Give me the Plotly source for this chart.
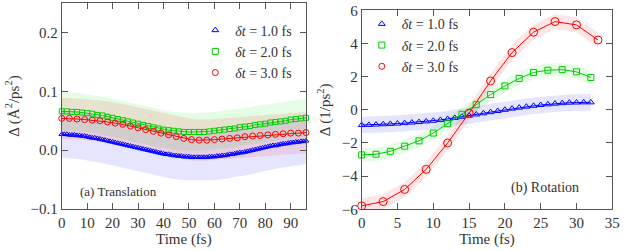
import plotly.graph_objects as go

# ---------------- data ----------------
labels = ["<i>δt</i> = 1.0 fs", "<i>δt</i> = 2.0 fs", "<i>δt</i> = 3.0 fs"]

# (a) Translation
tA1 = list(range(0, 97, 1))
yA1 = [0.027, 0.027, 0.027, 0.026, 0.026, 0.026, 0.025, 0.025, 0.024, 0.024, 0.023,
       0.022, 0.021, 0.021, 0.020, 0.019, 0.018, 0.017, 0.016, 0.015, 0.014,
       0.013, 0.012, 0.011, 0.010, 0.009, 0.008, 0.007, 0.006, 0.005, 0.004,
       0.003, 0.002, 0.001, 0.000, -0.001, -0.002, -0.003, -0.004, -0.005, -0.006,
       -0.007, -0.007, -0.008, -0.009, -0.009, -0.010, -0.010, -0.011, -0.011, -0.011,
       -0.012, -0.012, -0.012, -0.012, -0.012, -0.012, -0.012, -0.011, -0.011, -0.011,
       -0.010, -0.010, -0.009, -0.009, -0.008, -0.007, -0.007, -0.006, -0.005, -0.004,
       -0.004, -0.003, -0.002, -0.001, 0.000, 0.001, 0.002, 0.003, 0.004, 0.005,
       0.006, 0.007, 0.008, 0.008, 0.009, 0.010, 0.011, 0.011, 0.012, 0.013,
       0.013, 0.014, 0.014, 0.015, 0.015, 0.016]
tA2 = list(range(0, 97, 2))
yA2 = [0.066, 0.066, 0.065, 0.065, 0.064, 0.063, 0.062, 0.060, 0.059, 0.057,
       0.055, 0.053, 0.051, 0.049, 0.047, 0.045, 0.043, 0.041, 0.039, 0.037,
       0.035, 0.034, 0.033, 0.032, 0.031, 0.031, 0.031, 0.031, 0.031, 0.032,
       0.033, 0.034, 0.035, 0.036, 0.037, 0.039, 0.040, 0.041, 0.043, 0.044,
       0.045, 0.047, 0.048, 0.049, 0.050, 0.052, 0.053, 0.054, 0.055]
tA3 = list(range(0, 97, 3))
yA3 = [0.054, 0.054, 0.053, 0.052, 0.051, 0.050, 0.048, 0.046, 0.044, 0.041,
       0.038, 0.035, 0.032, 0.029, 0.026, 0.023, 0.020, 0.018, 0.017, 0.017,
       0.018, 0.019, 0.020, 0.021, 0.023, 0.024, 0.025, 0.026, 0.027, 0.028,
       0.029, 0.029, 0.030]
errA = [0.040, 0.032, 0.035]

# (b) Rotation
tB1 = list(range(0, 33, 1))
yB1 = [-0.92, -0.91, -0.89, -0.87, -0.85, -0.83, -0.80, -0.77, -0.74, -0.70,
       -0.66, -0.61, -0.55, -0.49, -0.42, -0.35, -0.28, -0.21, -0.14, -0.07,
       0.00, 0.07, 0.13, 0.19, 0.24, 0.29, 0.33, 0.37, 0.40, 0.43, 0.44, 0.45, 0.45]
tB2 = list(range(0, 33, 2))
yB2 = [-2.72, -2.68, -2.50, -2.19, -1.87, -1.40, -0.84, -0.27, 0.31, 0.92,
       1.44, 1.89, 2.25, 2.39, 2.42, 2.29, 1.95]
tB3 = list(range(0, 34, 3))
yB3 = [-5.79, -5.53, -4.80, -3.59, -2.00, -0.20, 1.74, 3.45, 4.68, 5.32, 5.12, 4.21]
errB = [0.5, 0.4, 0.45]

xticksA = [0, 10, 20, 30, 40, 50, 60, 70, 80, 90]
yticksA = [-0.1, 0.0, 0.1, 0.2]
yticktextA = ["−0.1", "0.0", "0.1", "0.2"]
xticksB = [0, 5, 10, 15, 20, 25, 30, 35]
yticksB = [-6, -4, -2, 0, 2, 4, 6]
yticktextB = ["−6", "−4", "−2", "0", "2", "4", "6"]

# ---------------- styling ----------------
colors = ["#0000ff", "#00cc00", "#ff0000"]
fills = ["rgba(0,0,255,0.10)", "rgba(0,230,0,0.10)", "rgba(255,0,0,0.10)"]
symbols = ["triangle-up-open", "square-open", "circle-open"]
FONT = "Liberation Serif"
TXT = "#333333"

fig = go.Figure()

def add_panel(ts, ys, errs, xa, ya, legend, sizes):
    for t, y, e, fc in zip(ts, ys, errs, fills):
        up = [v + e for v in y]
        lo = [v - e for v in y]
        fig.add_trace(go.Scatter(x=t + t[::-1], y=up + lo[::-1], fill="toself",
                                 fillcolor=fc, line=dict(width=0), mode="lines",
                                 hoverinfo="skip", showlegend=False,
                                 xaxis=xa, yaxis=ya))
    for t, y, c, s, lab, sz in zip(ts, ys, colors, symbols, labels, sizes):
        fig.add_trace(go.Scatter(x=t, y=y, mode="lines+markers", name=lab,
                                 line=dict(color=c, width=1),
                                 marker=dict(symbol=s, size=sz, color=c,
                                             line=dict(width=1, color=c)),
                                 cliponaxis=False, showlegend=False,
                                 xaxis=xa, yaxis=ya))
        fig.add_trace(go.Scatter(x=[None], y=[None], mode="markers", name=lab,
                                 marker=dict(symbol=s, size=6, color=c,
                                             line=dict(width=1, color=c)),
                                 legend=legend, xaxis=xa, yaxis=ya))

add_panel([tA1, tA2, tA3], [yA1, yA2, yA3], errA, "x", "y", "legend", [5, 5, 6])
add_panel([tB1, tB2, tB3], [yB1, yB2, yB3], errB, "x2", "y2", "legend2", [6, 6, 8])

axcommon = dict(showline=True, mirror="ticks", linecolor="#555555", linewidth=1,
                ticks="inside", ticklen=6, tickcolor="#555555", showgrid=False,
                zeroline=False, automargin=True,
                tickfont=dict(family=FONT, size=15, color=TXT),
                title_font=dict(family=FONT, size=15, color=TXT))

fig.update_layout(
    width=626, height=251,
    margin=dict(l=0, r=0, t=0, b=0, autoexpand=False),
    paper_bgcolor="white", plot_bgcolor="white",
    font=dict(family=FONT, size=14, color=TXT),
    xaxis=dict(domain=[0.0986, 0.4888], range=[0, 96], tickvals=xticksA,
               title=dict(text="Time (fs)", standoff=3), **axcommon),
    yaxis=dict(domain=[0.167, 0.988], range=[-0.1, 0.25], tickvals=yticksA,
               ticktext=yticktextA,
               title=dict(text="Δ (Å<sup>2</sup>/ps<sup>2</sup>)", standoff=7), **axcommon),
    xaxis2=dict(domain=[0.5778, 0.9781], range=[0, 35], tickvals=xticksB,
                anchor="y2", title=dict(text="Time (fs)", standoff=3), **axcommon),
    yaxis2=dict(domain=[0.166, 0.959], range=[-6, 6], tickvals=yticksB,
                ticktext=yticktextB,
                anchor="x2", title=dict(text="Δ (1/ps<sup>2</sup>)", standoff=7), **axcommon),
    legend=dict(x=0.312, y=0.942, xanchor="left", yanchor="top",
                bgcolor="rgba(0,0,0,0)", font=dict(family=FONT, size=14, color=TXT),
                tracegroupgap=0),
    legend2=dict(x=0.578, y=0.967, xanchor="left", yanchor="top",
                 bgcolor="rgba(0,0,0,0)", font=dict(family=FONT, size=14, color=TXT),
                 tracegroupgap=0),
    annotations=[
        dict(text="(a) Translation", x=0.125, y=0.238, xref="paper", yref="paper",
             xanchor="left", yanchor="middle", showarrow=False,
             font=dict(family=FONT, size=13, color="#333")),
        dict(text="(b) Rotation", x=0.813, y=0.25, xref="paper", yref="paper",
             xanchor="left", yanchor="middle", showarrow=False,
             font=dict(family=FONT, size=14, color="#333")),
    ],
)

fig.write_html("out.html", config={"displayModeBar": False},
               post_script="document.body.style.margin='0';document.body.style.overflow='hidden';")
